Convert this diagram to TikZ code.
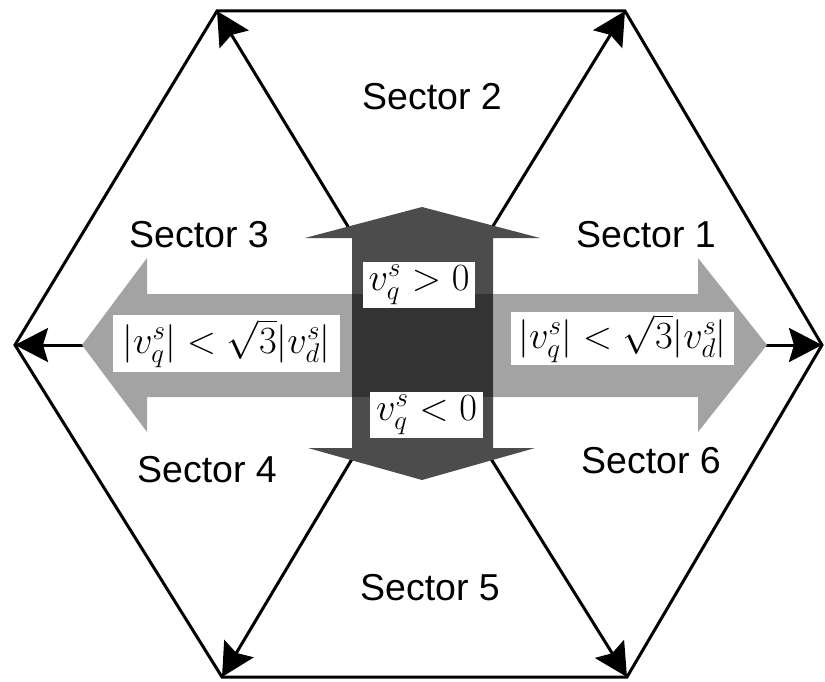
\RequirePackage{fix-cm}
\documentclass[tikz,border=0pt]{standalone}
\usepackage{fontspec}
\newfontfamily\sectorfont{Liberation Sans}
\usetikzlibrary{arrows.meta}
\begin{document}
\begin{tikzpicture}[x=1pt,y=-1pt,
  hexedge/.style={line width=3pt, line join=miter},
  spoke/.style={line width=3pt, -{Stealth[length=33pt,width=34pt,inset=5pt]}},
  lightarrow/.style={fill=black!36, draw=none},
  darkarrow/.style={fill=black!70, draw=none},
  overlap/.style={fill=black!80, draw=none},
  mathbox/.style={fill=white, inner sep=0pt, font=\fontsize{38.5}{42}\selectfont},
  sector/.style={anchor=base, inner sep=0pt, font=\sectorfont\fontsize{37.5}{40}\selectfont}]
\useasboundingbox (0,0) rectangle (825,682);
% vertices and centre
\coordinate (O) at (420,345);
\coordinate (L) at (15,345);
\coordinate (R) at (822,345);
\coordinate (TL) at (217,11);
\coordinate (TR) at (625,11);
\coordinate (BL) at (222,677);
\coordinate (BR) at (627,677);
% hexagon
\draw[hexedge] (L) -- (TL) -- (TR) -- (R) -- (BR) -- (BL) -- cycle;
% spokes
\foreach \v in {L,R,TL,TR,BL,BR} \draw[spoke] (O) -- (\v);
% light horizontal double arrow
\fill[lightarrow] (82,345) -- (147,258) -- (147,294) -- (698,294) -- (698,258)
  -- (767,345) -- (698,432) -- (698,397) -- (147,397) -- (147,432) -- cycle;
% dark vertical double arrow
\fill[darkarrow] (352,238) -- (305,238) -- (422,207) -- (540,238) -- (493,238)
  -- (493,448) -- (535,448) -- (422,480) -- (308,448) -- (352,448) -- cycle;
\fill[overlap] (352,294) rectangle (493,397);
% text boxes
\node[mathbox, minimum width=227pt, minimum height=57pt] (lt) at (226.5,343.5) {$|v_q^s| < \sqrt{3}|v_d^s|$};
\node[mathbox, minimum width=223pt, minimum height=53pt] (rt) at (622.5,338.5) {$|v_q^s| < \sqrt{3}|v_d^s|$};
\node[mathbox, minimum width=112pt, minimum height=46pt] (up) at (419,285) {$v_q^s > 0$};
\node[mathbox, minimum width=113pt, minimum height=46pt] (dn) at (426.5,415) {$v_q^s < 0$};
% sector labels
\node[sector] (s1) at (646,247) {Sector 1};
\node[sector] (s2) at (432,110) {Sector 2};
\node[sector] (s3) at (199,247) {Sector 3};
\node[sector] (s4) at (207,482) {Sector 4};
\node[sector] (s5) at (430,600) {Sector 5};
\node[sector] (s6) at (651,473) {Sector 6};
\end{tikzpicture}
\end{document}
